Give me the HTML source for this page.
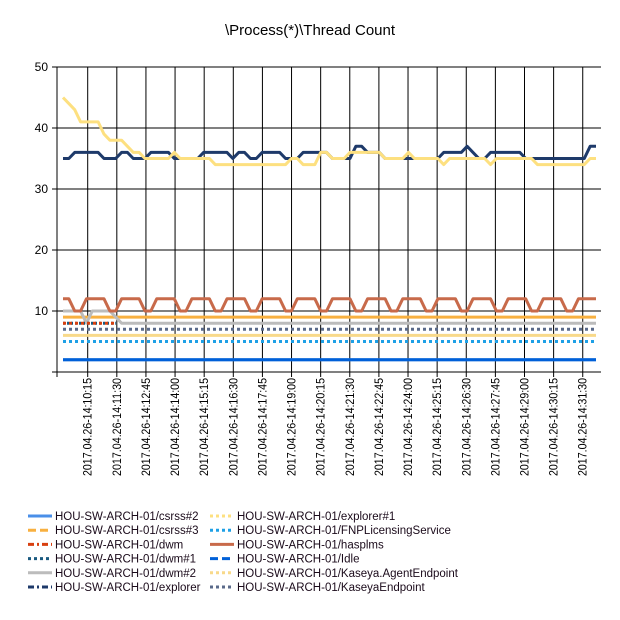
<!DOCTYPE html>
<html><head><meta charset="utf-8"><style>
body{margin:0;background:#fff;}
svg{display:block;font-family:"Liberation Sans",sans-serif;}
</style></head><body>
<svg id="chart" width="620" height="620" xmlns="http://www.w3.org/2000/svg">
<rect width="620" height="620" fill="#fff"/>
<text x="310" y="35" text-anchor="middle" font-size="15" fill="#000">\Process(*)\Thread Count</text>
<g id="grid"></g><g id="series"></g><g id="legend"></g>
</svg>
<script>
const yTicks=[0,10,20,30,40,50];
const xLabels=["2017.04.26-14:10:15","2017.04.26-14:11:30","2017.04.26-14:12:45","2017.04.26-14:14:00","2017.04.26-14:15:15","2017.04.26-14:16:30","2017.04.26-14:17:45","2017.04.26-14:19:00","2017.04.26-14:20:15","2017.04.26-14:21:30","2017.04.26-14:22:45","2017.04.26-14:24:00","2017.04.26-14:25:15","2017.04.26-14:26:30","2017.04.26-14:27:45","2017.04.26-14:29:00","2017.04.26-14:30:15","2017.04.26-14:31:30"];
const explorer=[35,35,36,36,36,36,36,35,35,35,36,36,35,35,35,36,36,36,36,35,35,35,35,35,36,36,36,36,36,35,36,36,35,35,36,36,36,36,35,35,35,36,36,36,36,36,35,35,35,35,37,37,36,36,36,35,35,35,35,35,35,35,35,35,35,36,36,36,36,37,36,35,35,36,36,36,36,36,36,35,35,35,35,35,35,35,35,35,35,35,37,37];
const explorer1=[45,44,43,41,41,41,41,39,38,38,38,37,36,36,35,35,35,35,35,36,35,35,35,35,35,35,34,34,34,34,34,34,34,34,34,34,34,34,34,35,35,34,34,34,36,36,35,35,35,36,36,36,36,36,36,35,35,35,35,36,35,35,35,35,35,34,35,35,35,35,35,35,35,34,35,35,35,35,35,35,35,34,34,34,34,34,34,34,34,34,35,35];
const hasplms=[12,12,10,10,12,12,12,12,10,10,12,12,12,12,10,10,12,12,12,12,10,10,12,12,12,12,10,10,12,12,12,12,10,10,12,12,12,12,10,10,12,12,12,12,10,10,12,12,12,12,10,10,12,12,12,12,10,10,12,12,12,12,10,10,12,12,12,12,10,10,12,12,12,12,10,10,12,12,12,12,10,10,12,12,12,12,10,10,12,12,12,12];
const dwm2=[10,10,10,10,8,10,10,10,10,9,8,8,8,8,8,8,8,8,8,8,8,8,8,8,8,8,8,8,8,8,8,8,8,8,8,8,8,8,8,8,8,8,8,8,8,8,8,8,8,8,8,8,8,8,8,8,8,8,8,8,8,8,8,8,8,8,8,8,8,8,8,8,8,8,8,8,8,8,8,8,8,8,8,8,8,8,8,8,8,8,8,8];
const dwm=[8,8,8,8,8,8,8,8,8,8];
const dwm1=[8,8,8,8,8,8,8,8,8,8];
const csrss3=[9,9];
const kaseyaEndpoint=[7,7];
const kaseyaAgent=[6,6];
const fnp=[5,5];
const idle=[2,2];
const csrss2=[2,2];

const L=57,R=601,T=67,B=372,N=92,X0=63,X1=596;
const ys=v=>B-(v/50)*(B-T);
const xs=i=>X0+i*(X1-X0)/(N-1);
const xt=k=>87.7+k*29.12;
const NS="http://www.w3.org/2000/svg";
function mk(tag,attrs,parent){const e=document.createElementNS(NS,tag);for(const k in attrs)e.setAttribute(k,attrs[k]);parent.appendChild(e);return e;}
const grid=document.getElementById('grid');
yTicks.forEach(v=>{
 const l=mk('line',{x1:L-5,x2:R,y1:ys(v),y2:ys(v),stroke:'#000','stroke-width':1},grid);
 
 
 if(v>0){const t=mk('text',{x:48,y:ys(v)+4,'text-anchor':'end','font-size':12,fill:'#000'},grid);t.textContent=v;
 
 }
});
mk('line',{x1:L,x2:L,y1:T,y2:B+5,stroke:'#000'},grid);
xLabels.forEach((s,k)=>{
 const x=xt(k);
 const l=mk('line',{x1:x,x2:x,y1:T,y2:B+5,stroke:'#000','stroke-width':1},grid);
 
 
 const t=mk('text',{x:0,y:0,'text-anchor':'end','font-size':11.5,fill:'#000',textLength:98,lengthAdjust:'spacingAndGlyphs',transform:`translate(${x+4},378) rotate(-90)`},grid);t.textContent=s;
 
 
});
const ser=document.getElementById('series');
function draw(arr,color,dash,name,full){
 const n=arr.length;let pts;
 if(full===false){pts=arr.map((v,i)=>[X0+i*5.86,ys(v)]);}
 else if(n<N){pts=[[X0,ys(arr[0])],[X1,ys(arr[n-1])]];}
 else pts=arr.map((v,i)=>[xs(i),ys(v)]);
 const p=mk('polyline',{points:pts.map(q=>q.join(',')).join(' '),fill:'none',stroke:color,'stroke-width':3,'stroke-linejoin':'round','stroke-dasharray':dash||'none'},ser);
 
 
}
draw(csrss2,'#4a8fe8','', 'series-csrss2');
draw(idle,'#0060d8','', 'series-idle');
draw(fnp,'#1ea0e6','3,3','series-fnp-licensing');
draw(kaseyaAgent,'#f8d98a','', 'series-kaseya-agent');
draw(kaseyaEndpoint,'#5a6a8a','3,3','series-kaseya-endpoint');
draw(csrss3,'#f8b040','', 'series-csrss3');
draw(dwm2,'#bcbcbc','', 'series-dwm2');
draw(dwm1,'#1a5a80','2,2','series-dwm1',false);
draw(dwm,'#d84010','3,3','series-dwm',false);
draw(hasplms,'#c86a4a','', 'series-hasplms');
draw(explorer,'#1e3a6a','', 'series-explorer');
draw(explorer1,'#fde080','', 'series-explorer1');
const leg=document.getElementById('legend');
const legNames=["HOU-SW-ARCH-01/csrss#2","HOU-SW-ARCH-01/csrss#3","HOU-SW-ARCH-01/dwm","HOU-SW-ARCH-01/dwm#1","HOU-SW-ARCH-01/dwm#2","HOU-SW-ARCH-01/explorer","HOU-SW-ARCH-01/explorer#1","HOU-SW-ARCH-01/FNPLicensingService","HOU-SW-ARCH-01/hasplms","HOU-SW-ARCH-01/Idle","HOU-SW-ARCH-01/Kaseya.AgentEndpoint","HOU-SW-ARCH-01/KaseyaEndpoint"];
const legColors=["#4a8fe8","#f8b040","#d84010","#1a5a80","#bcbcbc","#1e3a6a","#fde080","#1ea0e6","#c86a4a","#0060d8","#f8d98a","#5a6a8a"];
const legDash=["","8,4","6,3,2,3","3,3","","6,3,2,3","3,3","3,3","","8,4","3,3","3,3"];
legNames.forEach((s,i)=>{
 const col=i<6?0:1,row=i%6;
 const x=col?210:28,y=516+row*14.2;
 const g=mk('g',{},leg);
 
 
 mk('line',{x1:x,x2:x+24,y1:y,y2:y,stroke:legColors[i],'stroke-width':3,'stroke-dasharray':legDash[i]||'none'},g);
 const t=mk('text',{x:x+27,y:y+4,'font-size':11.5,fill:'#1a0a1a'},g);t.textContent=s;
});
</script>
</body></html>
